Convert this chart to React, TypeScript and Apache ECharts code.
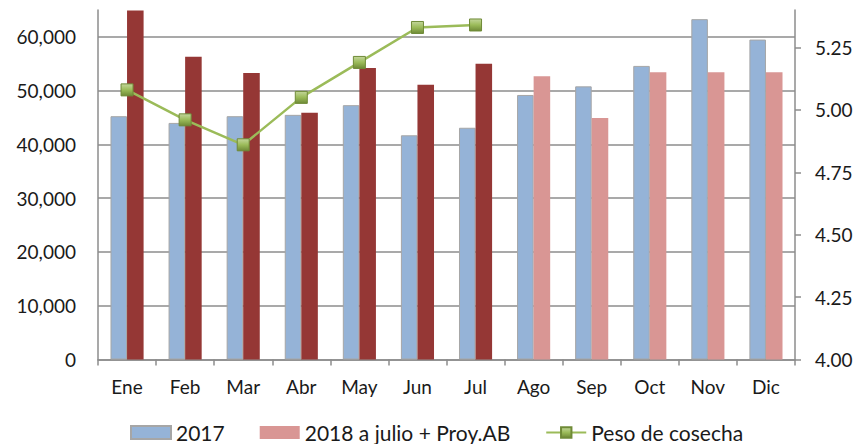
import React, { useEffect, useRef } from "react";
import * as echarts from "echarts";

const months = ["Ene", "Feb", "Mar", "Abr", "May", "Jun", "Jul", "Ago", "Sep", "Oct", "Nov", "Dic"];
const values2017 = [45250, 44000, 45250, 45500, 47300, 41700, 43100, 49200, 50800, 54600, 63300, 59500];
const values2018 = [64900, 56300, 53300, 45900, 54200, 51100, 55000, 52700, 44900, 53400, 53400, 53400];
const realMonths2018 = 7; // first 7 months are actual data (dark red), rest projection
const pesoCosecha = [5.08, 4.96, 4.86, 5.05, 5.19, 5.33, 5.34, null, null, null, null, null];
const rightTicks = [4, 4.25, 4.5, 4.75, 5, 5.25];

const FONT = "Lato, 'Liberation Sans', sans-serif";

export default function App() {
  const ref = useRef<HTMLDivElement>(null);
  useEffect(() => {
    if (!ref.current) return;
    const chart = echarts.init(ref.current, null, { renderer: "svg" });
    const data2018 = values2018.map((v, i) =>
      i < realMonths2018 ? { value: v, itemStyle: { color: "#953735" } } : { value: v }
    );
    chart.setOption({
      animation: false,
      textStyle: { fontFamily: FONT },
      grid: { left: 98, right: 64, top: 10, bottom: 84.5, containLabel: false },
      legend: {
        left: 125,
        top: 417,
        itemWidth: 40,
        itemHeight: 13,
        itemGap: 35,
        textStyle: { fontFamily: FONT, fontSize: 21, color: "#1a1a1a" },
        data: [
          { name: "2017", icon: "rect" },
          { name: "2018 a julio + Proy.AB", icon: "rect" },
          { name: "Peso de cosecha" },
        ],
      },
      xAxis: {
        type: "category",
        data: months,
        boundaryGap: true,
        axisLine: { lineStyle: { color: "#8c8c8c", width: 1.5 } },
        axisTick: { show: true, length: 6, lineStyle: { color: "#8c8c8c", width: 1.5 } },
        axisLabel: { fontFamily: FONT, fontSize: 19, color: "#1a1a1a", margin: 17 },
      },
      yAxis: [
        {
          type: "value",
          min: 0,
          max: 65000,
          interval: 10000,
          axisLine: { show: true, lineStyle: { color: "#8c8c8c", width: 1.5 } },
          axisTick: { show: false },
          axisLabel: {
            fontFamily: FONT,
            fontSize: 19,
            color: "#1a1a1a",
            margin: 22,
            showMaxLabel: false,
            formatter: (v: number) => v.toLocaleString("en-US"),
          },
          splitLine: { show: true, showMaxLine: false, lineStyle: { color: "#8c8c8c", width: 1.5 } },
        },
        {
          type: "value",
          min: 4,
          max: 5.4,
          interval: 0.25,
          position: "right",
          axisLine: { show: true, lineStyle: { color: "#8c8c8c", width: 1.5 } },
          axisTick: {
            show: true,
            length: 6,
            customValues: rightTicks,
            lineStyle: { color: "#8c8c8c", width: 1.5 },
          },
          axisLabel: {
            fontFamily: FONT,
            fontSize: 19,
            color: "#1a1a1a",
            margin: 20,
            customValues: rightTicks,
            formatter: (v: number) => v.toFixed(2),
          },
          splitLine: { show: false },
        },
      ],
      series: [
        {
          name: "2017",
          type: "bar",
          data: values2017,
          barGap: "0%",
          barCategoryGap: "43%",
          itemStyle: { color: "#95b3d7", borderColor: "#a6a6a6", borderWidth: 1 },
        },
        {
          name: "2018 a julio + Proy.AB",
          type: "bar",
          data: data2018,
          barGap: "0%",
          barCategoryGap: "43%",
          itemStyle: { color: "#d99694" },
        },
        {
          name: "Peso de cosecha",
          type: "line",
          yAxisIndex: 1,
          data: pesoCosecha,
          connectNulls: false,
          symbol: "rect",
          symbolSize: 12,
          lineStyle: { color: "#9bbb59", width: 2.5 },
          itemStyle: {
            color: new echarts.graphic.LinearGradient(0, 0, 0, 1, [
              { offset: 0, color: "#c3d69b" },
              { offset: 0.5, color: "#9bbb59" },
              { offset: 1, color: "#6f8a37" },
            ]),
            borderColor: "#6f8a37",
            borderWidth: 1,
          },
          z: 5,
        },
      ],
    });
    return () => chart.dispose();
  }, []);
  return (
    <div
      ref={ref}
      style={{ position: "fixed", left: 0, top: 0, width: 859, height: 444, background: "#fff" }}
    />
  );
}
